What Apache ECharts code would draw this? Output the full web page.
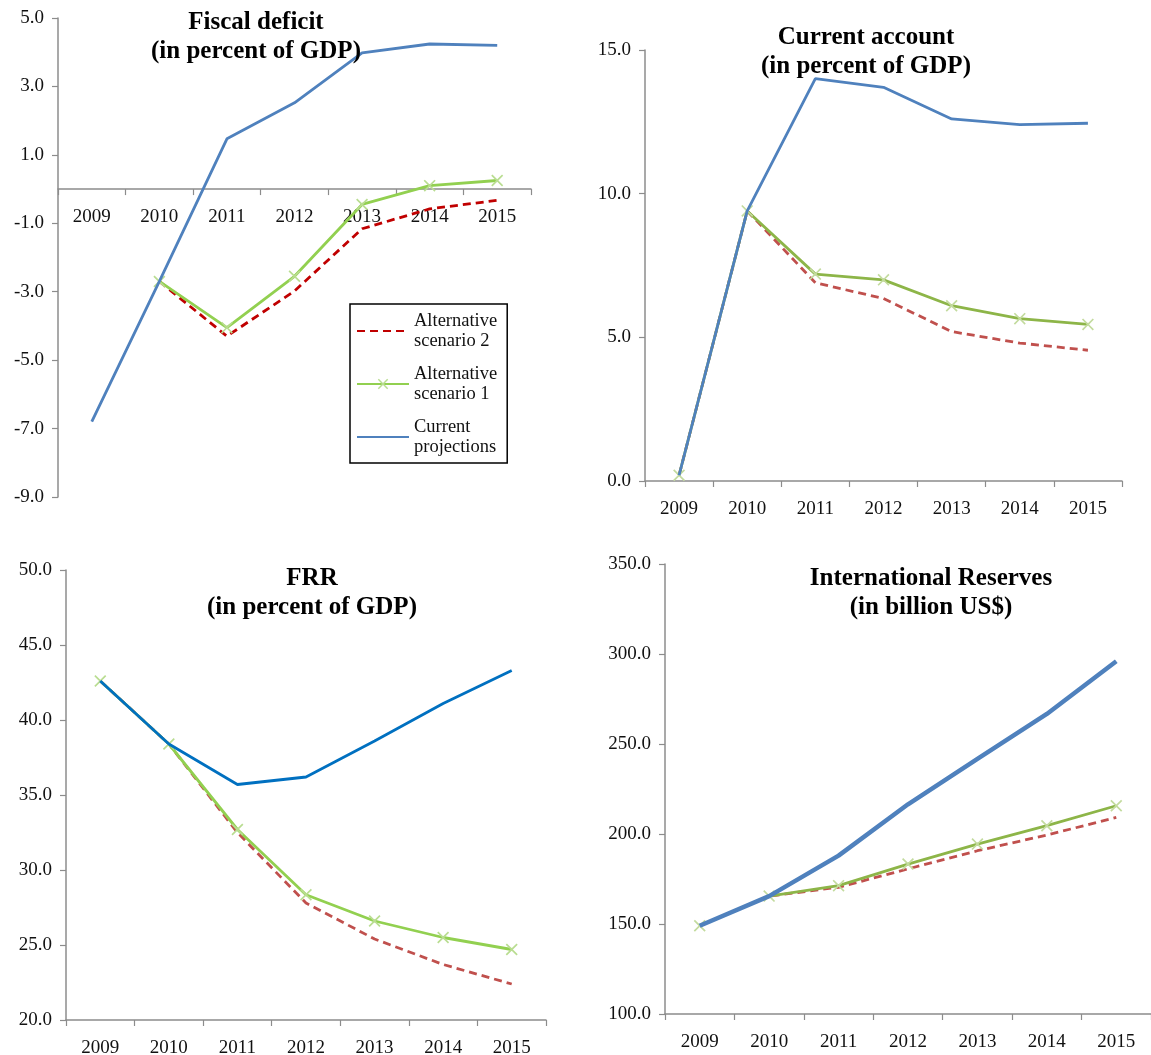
<!DOCTYPE html>
<html>
<head>
<meta charset="utf-8">
<script src="https://cdn.jsdelivr.net/npm/echarts@6/dist/echarts.min.js"></script>
<style>
html,body{margin:0;padding:0;background:#fff;}
#chart{width:1151px;height:1055px;}
</style>
</head>
<body>
<div id="chart"></div>
<script>
// ---- Data ----
var years = ['2009', '2010', '2011', '2012', '2013', '2014', '2015'];

var fiscalCurrent = [-6.8, -2.7, 1.47, 2.52, 3.98, 4.24, 4.2];
var fiscalAlt1 = [null, -2.7, -4.05, -2.55, -0.45, 0.1, 0.25];
var fiscalAlt2 = [null, -2.7, -4.3, -2.98, -1.16, -0.58, -0.33];

var caCurrent = [0.2, 9.4, 14.0, 13.7, 12.6, 12.4, 12.45];
var caAlt1 = [0.2, 9.4, 7.2, 7.0, 6.1, 5.65, 5.45];
var caAlt2 = [0.2, 9.4, 6.9, 6.35, 5.2, 4.8, 4.55];

var frrCurrent = [42.6, 38.4, 35.7, 36.2, 38.6, 41.1, 43.3];
var frrAlt1 = [42.6, 38.4, 32.7, 28.35, 26.6, 25.5, 24.7];
var frrAlt2 = [42.6, 38.4, 32.5, 27.8, 25.4, 23.7, 22.4];

var resCurrent = [149, 165.5, 188, 216.5, 241.7, 266.7, 296];
var resAlt1 = [149, 165.5, 171.3, 183.3, 194.4, 204.6, 215.7];
var resAlt2 = [149, 165.5, 170.4, 180.6, 190.7, 199.4, 209.2];

var titles = [
  'Fiscal deficit\n(in percent of GDP)',
  'Current account\n(in percent of GDP)',
  'FRR\n(in percent of GDP)',
  'International Reserves\n(in billion US$)'
];
var yTicks = [
  {min: -9, max: 5, interval: 2},
  {min: 0, max: 15, interval: 5},
  {min: 20, max: 50, interval: 5},
  {min: 100, max: 350, interval: 50}
];
var NAME_ALT2 = 'Alternative scenario 2';
var NAME_ALT1 = 'Alternative scenario 1';
var NAME_CUR = 'Current projections';

// ---- Layout / styles ----
var FONT = '"Liberation Serif", "DejaVu Serif", serif';
var grids = [
  {left: 58, top: 18, width: 473, height: 479},
  {left: 645, top: 50, width: 477, height: 431},
  {left: 66, top: 570, width: 480, height: 450},
  {left: 665, top: 564, width: 486, height: 450}
];
var titlePos = [
  {x: 251, y: 3},
  {x: 861, y: 18},
  {x: 307, y: 559},
  {x: 926, y: 559}
];
var styles = [
  {blue: '#4F81BD', blueW: 2.8, green: '#92D050', red: '#C00000', mark: '#B9DD91'},
  {blue: '#4F81BD', blueW: 2.8, green: '#8DB548', red: '#C0504D', mark: '#C3DB9E'},
  {blue: '#0070C0', blueW: 2.8, green: '#92D050', red: '#C0504D', mark: '#B9DD91'},
  {blue: '#4F81BD', blueW: 4.5, green: '#8DB548', red: '#C0504D', mark: '#C3DB9E'}
];
var dataSets = [
  [fiscalAlt2, fiscalAlt1, fiscalCurrent],
  [caAlt2, caAlt1, caCurrent],
  [frrAlt2, frrAlt1, frrCurrent],
  [resAlt2, resAlt1, resCurrent]
];
// fiscal x axis sits at y = 0
var fiscalZeroOffset = -(grids[0].height * (0 - yTicks[0].min) / (yTicks[0].max - yTicks[0].min));
var xOffsets = [fiscalZeroOffset, 0, 0, 0];
var xLabelMargin = [18, 19, 19, 19];

var XMARK = 'path://M0,1 L1,0 L5,4 L9,0 L10,1 L6,5 L10,9 L9,10 L5,6 L1,10 L0,9 L4,5 Z';
var AXIS_COLOR = '#8C8C8C';

var option = {
  animation: false,
  backgroundColor: '#ffffff',
  textStyle: {fontFamily: FONT},
  title: [],
  grid: [],
  xAxis: [],
  yAxis: [],
  series: [],
  legend: {
    left: 350, top: 304,
    orient: 'vertical',
    data: [
      {name: NAME_ALT2, itemStyle: {opacity: 0}},
      {name: NAME_ALT1},
      {name: NAME_CUR, itemStyle: {opacity: 0}}
    ],
    itemWidth: 52, itemHeight: 13,
    itemGap: 13,
    padding: [7, 10, 6, 6],
    borderColor: '#000', borderWidth: 1.5,
    backgroundColor: '#fff',
    selectedMode: false,
    textStyle: {fontFamily: FONT, fontSize: 18.5, color: '#111', lineHeight: 20},
    formatter: function (n) {
      return n.replace(' scenario', '\nscenario').replace(' projections', '\nprojections');
    }
  }
};

for (var i = 0; i < 4; i++) {
  option.title.push({
    text: titles[i],
    left: titlePos[i].x, top: titlePos[i].y,
    textAlign: 'center',
    textStyle: {fontFamily: FONT, fontWeight: 'bold', fontSize: 25, lineHeight: 29, color: '#000'}
  });
  option.grid.push(Object.assign({outerBoundsMode: 'none', containLabel: false}, grids[i]));
  option.xAxis.push({
    type: 'category', gridIndex: i, data: years, boundaryGap: true,
    position: 'bottom', offset: xOffsets[i],
    axisLine: {onZero: false, lineStyle: {color: AXIS_COLOR, width: 1.5}},
    axisTick: {show: true, length: 6, inside: false, lineStyle: {color: AXIS_COLOR, width: 1.2}},
    axisLabel: {color: '#111', fontFamily: FONT, fontSize: 19, margin: xLabelMargin[i], interval: 0},
    splitLine: {show: false}
  });
  option.yAxis.push({
    type: 'value', gridIndex: i,
    min: yTicks[i].min, max: yTicks[i].max, interval: yTicks[i].interval,
    axisLine: {show: true, onZero: false, lineStyle: {color: AXIS_COLOR, width: 1.5}},
    axisTick: {show: true, length: 6, lineStyle: {color: AXIS_COLOR, width: 1.2}},
    axisLabel: {color: '#111', fontFamily: FONT, fontSize: 19, margin: 14,
      formatter: function (v) { return v.toFixed(1); }},
    splitLine: {show: false}
  });
  var st = styles[i];
  var ds = dataSets[i];
  option.series.push({
    name: NAME_ALT2, type: 'line', xAxisIndex: i, yAxisIndex: i,
    data: ds[0], symbol: 'none', z: 2,
    color: st.red,
    lineStyle: {color: st.red, width: 2.8, type: [8, 5]},
    itemStyle: {color: st.red}
  });
  option.series.push({
    name: NAME_ALT1, type: 'line', xAxisIndex: i, yAxisIndex: i,
    data: ds[1], symbol: XMARK, symbolSize: 12, showSymbol: true, z: 3,
    color: st.green,
    lineStyle: {color: st.green, width: 2.8},
    itemStyle: {color: st.mark}
  });
  option.series.push({
    name: NAME_CUR, type: 'line', xAxisIndex: i, yAxisIndex: i,
    data: ds[2], symbol: 'none', z: 4,
    color: st.blue,
    lineStyle: {color: st.blue, width: st.blueW},
    itemStyle: {color: st.blue}
  });
}

var chart = echarts.init(document.getElementById('chart'), null, {renderer: 'canvas'});
chart.setOption(option);
</script>
</body>
</html>
